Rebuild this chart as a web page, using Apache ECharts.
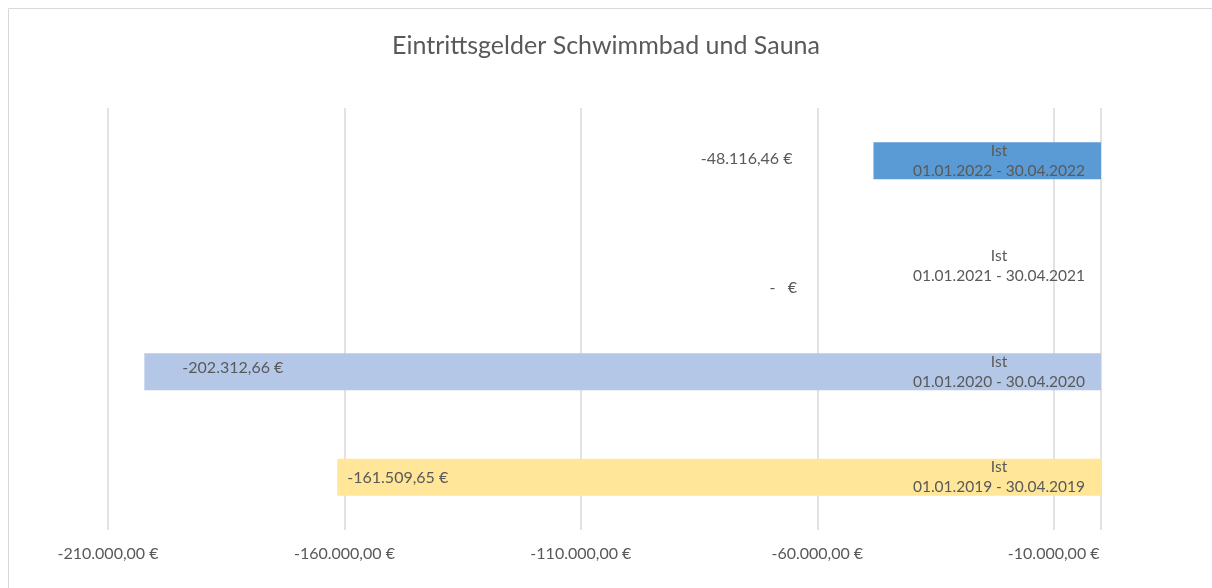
<!DOCTYPE html>
<html>
<head>
<meta charset="utf-8">
<script src="https://cdn.jsdelivr.net/npm/echarts@6/dist/echarts.min.js"></script>
<style>
  html, body { margin: 0; padding: 0; background: #fff; }
  #chart { width: 1212px; height: 588px; }
</style>
</head>
<body>
<div id="chart"></div>
<script>
// categories top to bottom
var periods = ['01.01.2022 - 30.04.2022', '01.01.2021 - 30.04.2021', '01.01.2020 - 30.04.2020', '01.01.2019 - 30.04.2019'];
var values = [-48116.46, 0, -202312.66, -161509.65];
var barColors = ['#5B9BD5', '#5B9BD5', '#B4C7E7', '#FFE699'];
var axisMin = -210000;
var axisMax = 0;
var tickStep = 50000;

var font = 'Lato, "Open Sans", sans-serif';
var textColor = '#595959';

function euro(v) {
  if (v === 0) return '-   €';
  var neg = v < 0;
  var parts = Math.abs(v).toFixed(2).split('.');
  var whole = parts[0].replace(/\B(?=(\d{3})+(?!\d))/g, '.');
  return (neg ? '-' : '') + whole + ',' + parts[1] + ' €';
}

// hand-placed data labels like in the original sheet
var labelPos = [
  { position: 'left', distance: 81, offset: [0, -2] },
  { position: 'left', distance: 304, offset: [0, 22] },
  { position: 'insideLeft', distance: 38, offset: [0, -4] },
  { position: 'insideLeft', distance: 10, offset: [0, 1] }
];

var seriesData = values.map(function (v, i) {
  return {
    value: v,
    itemStyle: { color: barColors[i] },
    label: labelPos[i]
  };
});

var chart = echarts.init(document.getElementById('chart'));
chart.setOption({
  animation: false,
  backgroundColor: '#fff',
  title: {
    text: 'Eintrittsgelder Schwimmbad und Sauna',
    left: 'center',
    top: 28,
    textStyle: { fontFamily: font, fontSize: 25, fontWeight: 'normal', color: textColor }
  },
  graphic: [{
    type: 'rect',
    shape: { x: 8.5, y: 8.5, width: 1300, height: 700 },
    style: { fill: 'none', stroke: '#D9D9D9', lineWidth: 1 },
    silent: true
  }],
  grid: { left: 108, right: 111, top: 108, bottom: 58 },
  xAxis: {
    type: 'value',
    min: axisMin,
    max: axisMax,
    interval: tickStep,
    axisLine: { show: false },
    axisTick: { show: false },
    splitLine: { show: true, lineStyle: { color: '#D9D9D9', width: 1.5 } },
    axisLabel: {
      margin: 16,
      fontFamily: font,
      fontSize: 16,
      color: textColor,
      showMaxLabel: false,
      formatter: function (v) { return v === 0 ? '' : euro(v); }
    }
  },
  yAxis: {
    type: 'category',
    data: periods,
    inverse: true,
    position: 'right',
    z: 5,
    axisLine: { show: false },
    axisTick: { show: false },
    axisLabel: {
      inside: true,
      margin: 102,
      align: 'center',
      fontFamily: font,
      fontSize: 15.5,
      lineHeight: 20,
      color: textColor,
      formatter: function (v) { return 'Ist\n' + v; }
    }
  },
  series: [{
    type: 'bar',
    data: seriesData,
    barWidth: 37,
    label: {
      show: true,
      fontFamily: font,
      fontSize: 16,
      color: textColor,
      formatter: function (p) { return euro(p.value); }
    }
  }]
});
</script>
</body>
</html>
